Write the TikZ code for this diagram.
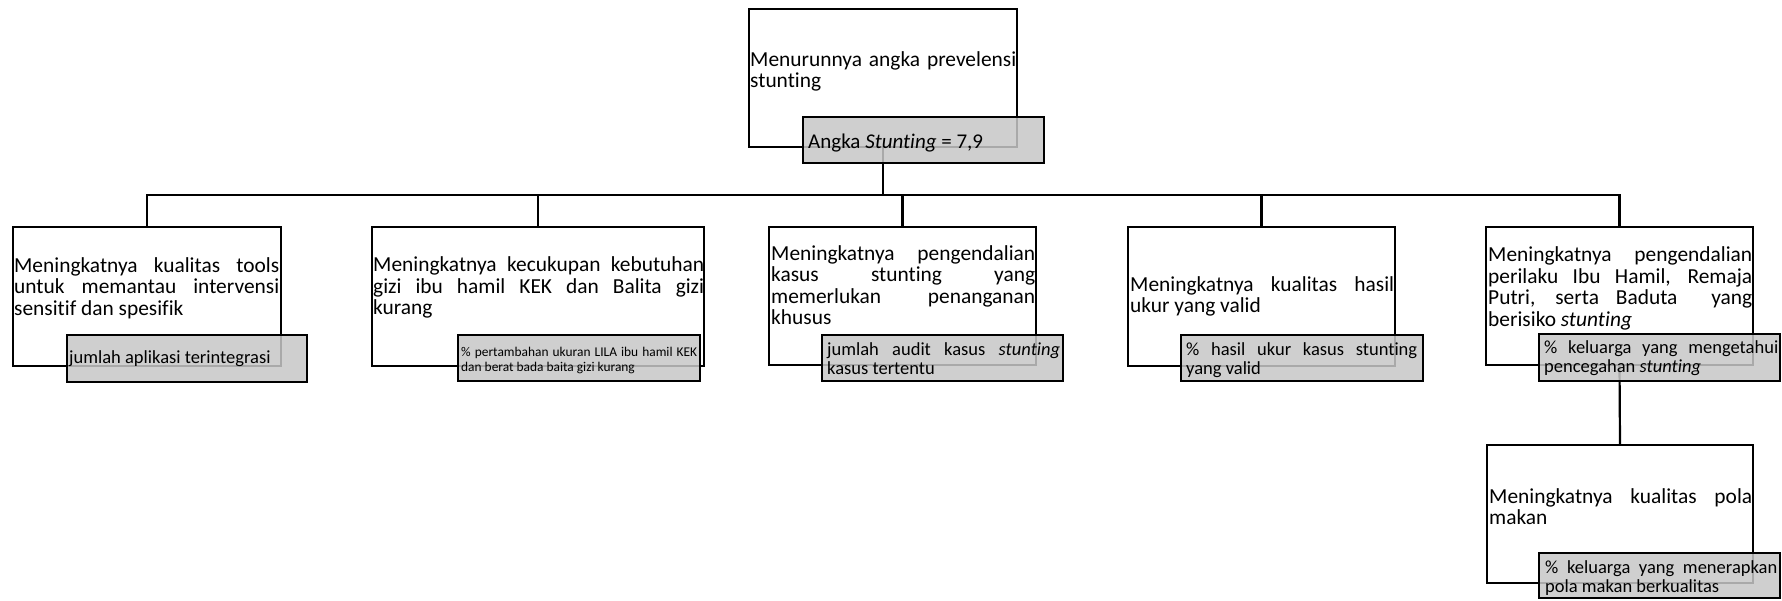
\documentclass[tikz,border=0pt]{standalone}
\usepackage{fontspec}
\setmainfont{Carlito}[Ligatures={NoCommon,TeX}]
\newcommand{\boxpar}[2]{\vtop{\hsize=#1\relax\parindent=0pt\rightskip=0pt\parfillskip=0pt plus 1fil\hyphenpenalty=10000\exhyphenpenalty=10000\tolerance=10000\hbadness=10000\emergencystretch=30pt #2}}
\begin{document}
\begin{tikzpicture}[x=1pt,y=-1pt,
  wbox/.style={draw, line width=2.2pt, fill=white, inner sep=0pt, outer sep=0pt, anchor=north west},
  gbox/.style={draw, line width=2.2pt, fill=black!22, fill opacity=0.85, draw opacity=1, text opacity=1, inner sep=0pt, outer sep=0pt, anchor=north west},
  conn/.style={line width=2.2pt, line join=miter},
  mtxt/.style={inner sep=0pt, anchor=base west, font=\fontsize{21.4}{21.6}\selectfont},
  gtxt/.style={inner sep=0pt, anchor=base west, font=\fontsize{18.5}{19}\selectfont},
  ttxt/.style={inner sep=0pt, anchor=base west, font=\fontsize{21}{21.6}\selectfont},
  stxt/.style={inner sep=0pt, anchor=base west, font=\fontsize{13.4}{15}\selectfont}]
\useasboundingbox (0,0) rectangle (1782,600);
% white boxes
\node[wbox, minimum width=268pt, minimum height=138pt] (b0) at (749,9) {};
\node[wbox, minimum width=268pt, minimum height=139pt] (b1) at (13,227) {};
\node[wbox, minimum width=332pt, minimum height=139pt] (b2) at (372,227) {};
\node[wbox, minimum width=267pt, minimum height=138pt] (b3) at (769,227) {};
\node[wbox, minimum width=267pt, minimum height=139pt] (b4) at (1128,227) {};
\node[wbox, minimum width=267pt, minimum height=138pt] (b5) at (1486,227) {};
\node[wbox, minimum width=266pt, minimum height=138pt] (b6) at (1487,445) {};
% connectors
\coordinate (bus) at (0,195);
\draw[conn] (b0.south) -- (b0.south |- bus);
\draw[conn] (b1.north) -- (b1.north |- bus) -- (b5.north |- bus) -- (b5.north);
\draw[conn] (b2.north |- bus) -- (b2.north);
\draw[conn] (b3.north |- bus) -- (b3.north);
\draw[conn] (b4.north |- bus) -- (b4.north);
\draw[conn] (b5.south) -- (b6.north);
% grey boxes
\node[gbox, minimum width=241pt, minimum height=46pt] (g0) at (803,117) {};
\node[gbox, minimum width=240pt, minimum height=47pt] (g1) at (67,335) {};
\node[gbox, minimum width=242pt, minimum height=46pt] (g2) at (458,335) {};
\node[gbox, minimum width=241pt, minimum height=46pt] (g3) at (822,335) {};
\node[gbox, minimum width=242pt, minimum height=46pt] (g4) at (1181,335) {};
\node[gbox, minimum width=241pt, minimum height=47pt] (g5) at (1539,334) {};
\node[gbox, minimum width=241pt, minimum height=45pt] (g6) at (1539,553) {};
% texts
\node[mtxt] (t0) at (750,66) {\boxpar{266pt}{Menurunnya angka prevelensi\linebreak stunting}};
\node[ttxt] (tg0) at (808,148) {Angka \textit{Stunting} = 7,9};
\node[mtxt] (t1) at (14,272) {\boxpar{265pt}{Meningkatnya kualitas tools\linebreak untuk memantau intervensi\linebreak sensitif dan spesifik}};
\node[gtxt] (tg1) at (69,363) {jumlah aplikasi terintegrasi};
\node[mtxt] (t2) at (373,271.7) {\boxpar{331pt}{Meningkatnya kecukupan kebutuhan\linebreak gizi ibu hamil KEK dan Balita gizi\linebreak kurang}};
\node[stxt] (tg2) at (461,356.7) {\boxpar{236pt}{\% pertambahan ukuran LILA ibu hamil KEK\linebreak dan berat bada baita gizi kurang}};
\node[mtxt] (t3) at (771,260) {\boxpar{264pt}{Meningkatnya pengendalian\linebreak kasus stunting yang\linebreak memerlukan penanganan\linebreak khusus}};
\node[gtxt] (tg3) at (827,355) {\boxpar{233pt}{jumlah audit kasus \textit{stunting}\linebreak kasus tertentu}};
\node[mtxt] (t4) at (1130,291) {\boxpar{264pt}{Meningkatnya kualitas hasil\linebreak ukur yang valid}};
\node[gtxt] (tg4) at (1186,355) {\boxpar{231pt}{\% hasil ukur kasus stunting\linebreak yang valid}};
\node[mtxt] (t5) at (1488,261.7) {\boxpar{264pt}{Meningkatnya pengendalian\linebreak perilaku Ibu Hamil, Remaja\linebreak Putri, serta Baduta\ \ yang\linebreak berisiko \textit{stunting}}};
\node[gtxt] (tg5) at (1544,353) {\boxpar{234pt}{\% keluarga yang mengetahui\linebreak pencegahan \textit{stunting}}};
\node[mtxt] (t6) at (1489,503) {\boxpar{263pt}{Meningkatnya kualitas pola\linebreak makan}};
\node[gtxt] (tg6) at (1545,573) {\boxpar{232pt}{\% keluarga yang menerapkan\linebreak pola makan berkualitas}};
\end{tikzpicture}
\end{document}
